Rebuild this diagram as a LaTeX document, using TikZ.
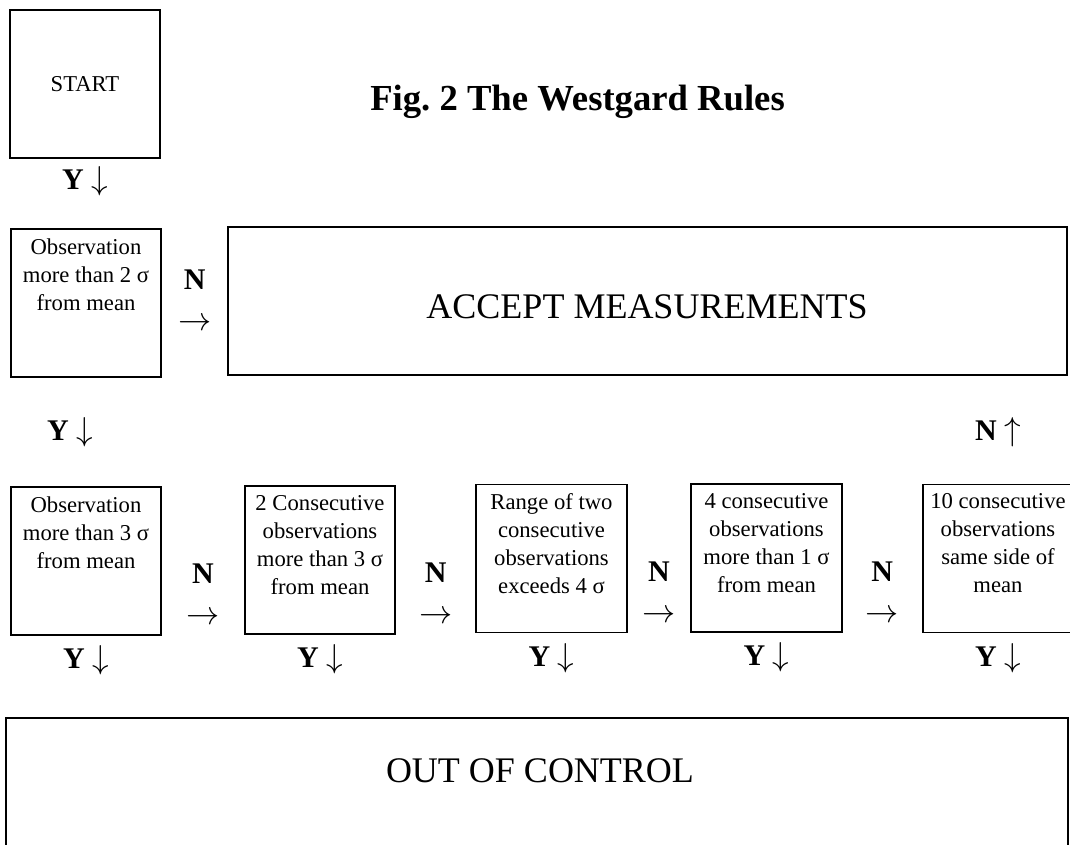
\documentclass[tikz,border=0pt]{standalone}
\usepackage{fontspec}
\setmainfont{Liberation Serif}
\usetikzlibrary{positioning,calc}

% larger arrow glyph for the Y/N labels
\newcommand{\ruleArrow}[1]{{\fontsize{28}{30}\selectfont$#1$}}

\tikzset{
  rulebox/.style={draw, line width=1.4pt, minimum width=113pt, minimum height=111pt, inner sep=0pt},
  ruletext/.style={align=center, inner sep=0pt, font=\fontsize{17}{21}\selectfont},
  bigtext/.style={inner sep=0pt, font=\fontsize{27}{32}\selectfont},
  answer/.style={align=center, inner sep=0pt, font=\bfseries\fontsize{22.5}{30.5}\selectfont}
}

\begin{document}
\begin{tikzpicture}[x=0.75pt, y=-0.75pt]
    \useasboundingbox (0,0) rectangle (1070,844);

    % Start box and title
    \node[rulebox, font=\fontsize{17}{21}\selectfont] (start) at (85,84) {START};
    \node[anchor=base west, inner sep=0pt, font=\bfseries\fontsize{27.5}{32}\selectfont] (title) at (370,110) {Fig.\ 2 The Westgard Rules};
    \node[answer, anchor=base] (Y-start) at (85,189) {Y \ruleArrow{\downarrow}};

    % First check (2 sigma) and accept box
    \node[rulebox] (obs2) at (86,303) {};
    \node[ruletext, below=8pt of obs2.north] (obs2-text) {Observation\\more than 2 σ\\from mean};
    \node[rulebox, minimum width=629pt] (accept) at (647.5,301) {};
    \node[bigtext] (accept-text) at (647,307) {ACCEPT MEASUREMENTS};
    \node[answer, anchor=base] (N-accept) at ($(obs2.east)!0.5!(accept.west)+(0,28)$) {N\\\ruleArrow{\rightarrow}};
    \node[answer, anchor=base] (Y-obs2) at (70,440) {Y \ruleArrow{\downarrow}};

    % Row of rules
    \node[rulebox] (B-1) at (86,561) {};
    \node[rulebox] (B-2) at (320,560) {};
    \node[rulebox] (B-3) at (551.5,558.5) {};
    \node[rulebox] (B-4) at (766.5,558) {};
    \node[rulebox] (B-5) at (998,558.5) {};

    \node[ruletext, below=7.5pt of B-1.north] (T-1) {Observation\\more than 3 σ\\from mean};
    \node[ruletext, below=7.5pt of B-2.north] (T-2) {2 Consecutive\\observations\\more than 3 σ\\from mean};
    \node[ruletext, below=7.5pt of B-3.north] (T-3) {Range of two\\consecutive\\observations\\exceeds 4 σ};
    \node[ruletext, below=7.5pt of B-4.north] (T-4) {4 consecutive\\observations\\more than 1 σ\\from mean};
    \node[ruletext, below=7.5pt of B-5.north] (T-5) {10 consecutive\\observations\\same side of\\mean};

    % N labels between the rules
    \foreach \i/\j in {1/2, 2/3, 3/4, 4/5}
        \node[answer, anchor=base] (N-\i) at ($(B-\i.east)!0.5!(B-\j.west)+(0,64)$) {N\\\ruleArrow{\rightarrow}};

    % Y labels under the rules
    \foreach \i in {1,...,5}
        \node[answer, anchor=base] (Y-\i) at ($(B-\i.south)+(0,33)$) {Y \ruleArrow{\downarrow}};

    % Last rule back to accept
    \node[answer, anchor=base] (N-up) at ($(B-5.north)+(0,-43)$) {N \ruleArrow{\uparrow}};

    % Out of control box
    \node[rulebox, minimum width=796.5pt, minimum height=136.5pt] (ooc) at (537,809) {};
    \node[bigtext] (ooc-text) at (540,771) {OUT OF CONTROL};

\end{tikzpicture}
\end{document}
